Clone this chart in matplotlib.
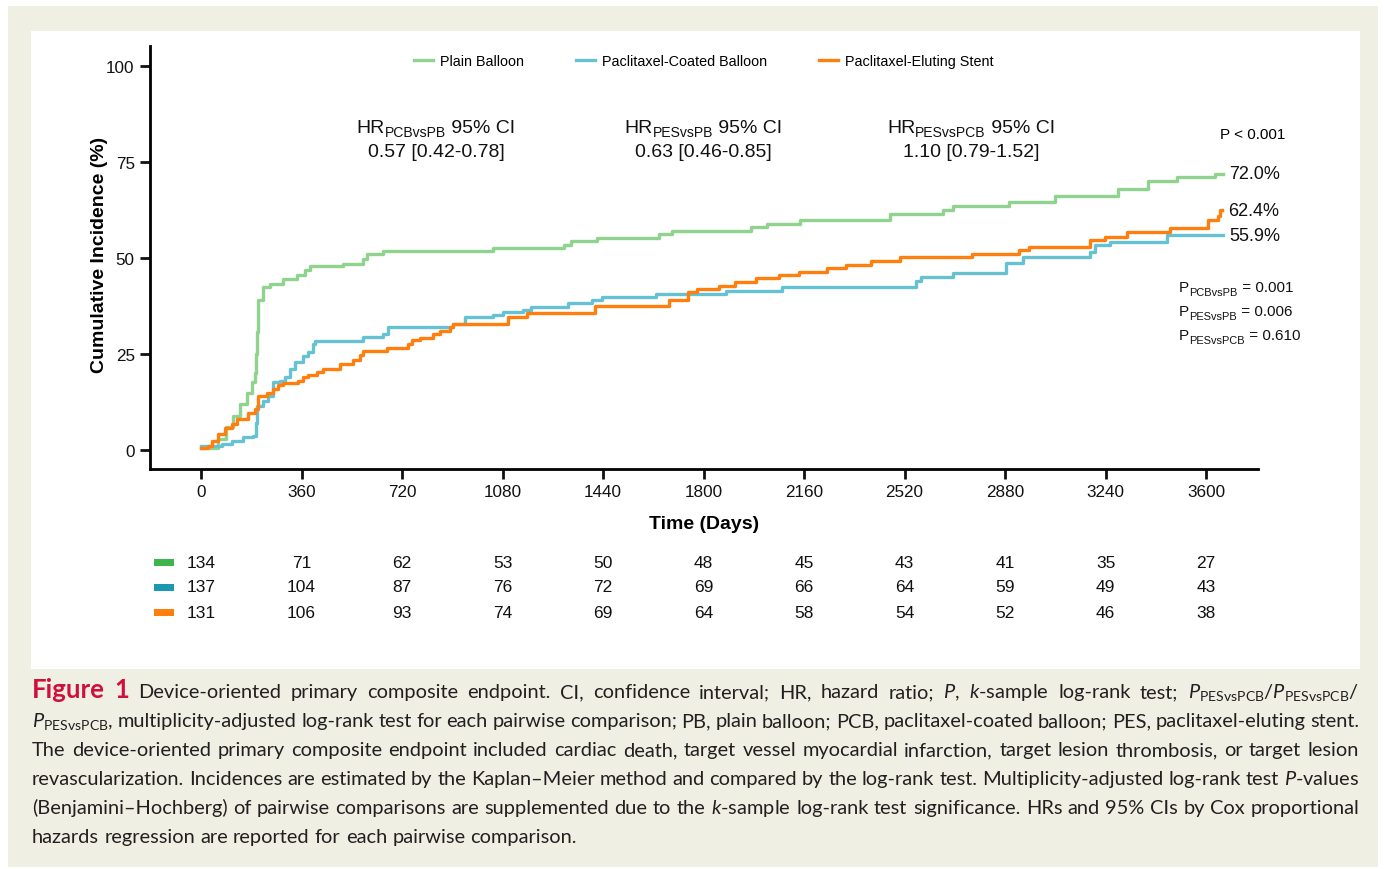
import numpy as np
import matplotlib
matplotlib.use("Agg")
import matplotlib.pyplot as plt
from matplotlib.patches import Rectangle
from matplotlib.transforms import blended_transform_factory

plt.rcParams['font.family'] = ['Liberation Sans', 'DejaVu Sans']
plt.rcParams['mathtext.fontset'] = 'custom'
plt.rcParams['mathtext.rm'] = 'Lato'
plt.rcParams['mathtext.it'] = 'Lato:italic'
plt.rcParams['mathtext.bf'] = 'Lato:bold'

W, H = 1386, 870

# Kaplan-Meier steps (days, cumulative incidence %)
pb_days = [0, 60, 90, 115, 140, 165, 183, 193, 198, 200, 205, 222, 247, 294, 344, 372, 390, 509, 580,
           594, 652, 1046, 1300, 1325, 1418, 1640, 1686, 1970, 2027, 2145, 2468, 2658, 2694, 2894,
           3059, 3284, 3392, 3496, 3632, 3660]
pb_pct = [0.5, 3.0, 6.0, 8.9, 12.0, 15.0, 17.7, 20.0, 25.0, 30.7, 39.0, 42.4, 43.2, 44.5, 45.5, 47.0,
          48.0, 48.4, 49.7, 51.0, 51.8, 52.5, 53.5, 54.4, 55.3, 56.2, 57.1, 58.0, 58.9, 59.8, 61.6,
          62.5, 63.5, 64.5, 66.2, 68.1, 70.1, 71.0, 72.0, 72.0]

pcb_days = [0, 75, 111, 150, 186, 195, 200, 222, 240, 258, 283, 301, 319, 337, 365, 383, 401, 408,
            580, 652, 670, 903, 946, 1046, 1082, 1153, 1182, 1314, 1400, 1436, 1630, 1880, 2081,
            2561, 2579, 2694, 2883, 2944, 3184, 3202, 3256, 3460, 3660]
pcb_pct = [1.0, 1.5, 2.4, 3.3, 3.7, 7.0, 11.5, 12.7, 14.0, 17.7, 18.0, 19.0, 21.0, 23.0, 24.5, 25.5,
           27.6, 28.4, 29.4, 30.2, 32.0, 32.8, 34.6, 35.3, 35.9, 36.5, 37.3, 38.2, 39.0, 39.8, 40.6,
           41.5, 42.4, 44.1, 45.1, 46.2, 48.6, 50.3, 51.5, 53.4, 54.3, 55.9, 55.9]

pes_days = [0, 25, 40, 61, 86, 111, 129, 168, 193, 204, 236, 258, 276, 294, 347, 365, 383, 415, 437,
            498, 544, 569, 580, 666, 741, 755, 784, 831, 856, 892, 903, 1100, 1168, 1411, 1676, 1744,
            1776, 1855, 1913, 1988, 2070, 2142, 2242, 2310, 2400, 2503, 2761, 2930, 2966, 3184,
            3238, 3316, 3470, 3607, 3642, 3650, 3657]
pes_pct = [0.5, 1.0, 2.4, 4.2, 5.7, 6.8, 8.1, 9.6, 10.7, 14.0, 15.0, 15.9, 16.9, 17.4, 18.0, 19.0,
           19.5, 20.3, 21.0, 22.4, 23.4, 24.7, 25.8, 26.6, 27.6, 28.6, 29.1, 30.2, 31.0, 32.0, 32.8,
           34.7, 35.6, 37.4, 39.1, 41.1, 41.9, 42.8, 43.7, 44.7, 45.6, 46.5, 47.4, 48.3, 49.3, 50.2,
           51.0, 52.1, 53.0, 54.8, 55.6, 56.8, 57.7, 60.0, 61.0, 62.4, 62.4]

labels = ["Plain Balloon", "Paclitaxel-Coated Balloon", "Paclitaxel-Eluting Stent"]
line_colors = ["#90D38E", "#66C2D2", "#FF7F0E"]
risk_colors = ["#3DB54A", "#1A97B3", "#FF7F0E"]

risk_times = [0, 360, 720, 1080, 1440, 1800, 2160, 2520, 2880, 3240, 3600]
risk_pb = [134, 71, 62, 53, 50, 48, 45, 43, 41, 35, 27]
risk_pcb = [137, 104, 87, 76, 72, 69, 66, 64, 59, 49, 43]
risk_pes = [131, 106, 93, 74, 69, 64, 58, 54, 52, 46, 38]

# (main, subscript, rest) pieces for the annotations
hr_titles = [("HR", "PCBvsPB", " 95% CI"), ("HR", "PESvsPB", " 95% CI"), ("HR", "PESvsPCB", " 95% CI")]
hr_values = ["0.57 [0.42-0.78]", "0.63 [0.46-0.85]", "1.10 [0.79-1.52]"]
pair_p = [("P", "PCBvsPB", " = 0.001"), ("P", "PESvsPB", " = 0.006"), ("P", "PESvsPCB", " = 0.610")]

caption = [
    r"Figure 1 Device-oriented primary composite endpoint. CI, confidence interval; HR, hazard ratio; $P$, $k$-sample log-rank test; $P_{\mathrm{PESvsPCB}}$/$P_{\mathrm{PESvsPCB}}$/",
    r"$P_{\mathrm{PESvsPCB}}$, multiplicity-adjusted log-rank test for each pairwise comparison; PB, plain balloon; PCB, paclitaxel-coated balloon; PES, paclitaxel-eluting stent.",
    "The device-oriented primary composite endpoint included cardiac death, target vessel myocardial infarction, target lesion thrombosis, or target lesion",
    r"revascularization. Incidences are estimated by the Kaplan–Meier method and compared by the log-rank test. Multiplicity-adjusted log-rank test $P$-values",
    r"(Benjamini–Hochberg) of pairwise comparisons are supplemented due to the $k$-sample log-rank test significance. HRs and 95% CIs by Cox proportional",
    "hazards regression are reported for each pairwise comparison.",
]

fig = plt.figure(figsize=(W / 100, H / 100), dpi=100)
fig.patch.set_facecolor("white")
# beige page and white chart panel
fig.add_artist(Rectangle((8 / W, 1 - 868 / H), 1370 / W, 861 / H, transform=fig.transFigure,
                         facecolor="#EFEFE3", edgecolor="none", zorder=-10))
fig.add_artist(Rectangle((31 / W, 1 - 670 / H), 1329 / W, 638 / H, transform=fig.transFigure,
                         facecolor="white", edgecolor="none", zorder=-9))
renderer = fig.canvas.get_renderer()


def sub_text(x, y, parts, size, ha="left"):
    # draw main text + subscript + rest, positions in pixels from top-left
    main, sub, rest = parts
    specs = [(main, size, 0), (sub, size * 0.72, 4), (rest, size, 0)]
    objs = [fig.text(0, 1 - (y + dy) / H, s, fontsize=fs, va="baseline", color="#111111")
            for s, fs, dy in specs]
    widths = [t.get_window_extent(renderer).width for t in objs]
    total = sum(widths)
    start = {"left": x, "center": x - total / 2, "right": x - total}[ha]
    for t, w in zip(objs, widths):
        t.set_x(start / W)
        start += w


ax = fig.add_axes([150 / W, 1 - 470 / H, 1108 / W, 423 / H])
ax.set_facecolor("none")

series = [(pb_days, pb_pct), (pcb_days, pcb_pct), (pes_days, pes_pct)]
handles = []
for (d, p), lab, col in zip(series, labels, line_colors):
    h, = ax.step(d, p, where="post", color=col, lw=2.4, label=lab)
    handles.append(h)
    ax.annotate(f"{p[-1]:.1f}%", (d[-1], p[-1]), xytext=(6, 0), textcoords="offset pixels",
                va="center", ha="left", fontsize=13, color="#111111")

ax.set_xlim(-183, 3786)
ax.set_ylim(-4.9, 105.2)
ax.set_xticks(risk_times)
ax.set_yticks([0, 25, 50, 75, 100])
for s in ["top", "right"]:
    ax.spines[s].set_visible(False)
for s in ["left", "bottom"]:
    ax.spines[s].set_linewidth(2)
ax.tick_params(length=7, width=2, labelsize=12.3, pad=4, colors="#111111")
ax.set_xlabel("Time (Days)", fontsize=14, fontweight="bold")
ax.xaxis.set_label_coords(0.5, -0.109)
ax.set_ylabel("Cumulative Incidence (%)", fontsize=14, fontweight="bold")
ax.yaxis.set_label_coords(-0.038, 0.508)

ax.legend(handles=handles, loc="center", bbox_to_anchor=(0.5, 0.9645), ncol=3, frameon=False,
          fontsize=10.4, handlelength=1.3, handletextpad=0.5, columnspacing=3.6)

for x, t, v in zip([436, 703, 971], hr_titles, hr_values):
    sub_text(x, 133, t, 14, ha="center")
    fig.text(x / W, 1 - 157 / H, v, ha="center", va="baseline", fontsize=14, color="#111111")

fig.text(1285 / W, 1 - 139 / H, "P < 0.001", ha="right", va="baseline", fontsize=11)
for y, t in zip([292, 316, 340], pair_p):
    sub_text(1179, y, t, 11)

# numbers at risk
trans = blended_transform_factory(ax.transData, fig.transFigure)
for y, row, col in zip([563, 588, 613], [risk_pb, risk_pcb, risk_pes], risk_colors):
    fig.add_artist(Rectangle((154 / W, 1 - (y + 3.5) / H), 20 / W, 7 / H,
                             transform=fig.transFigure, facecolor=col, edgecolor="none"))
    for t, n in zip(risk_times, row):
        ax.text(t, 1 - y / H, str(n), ha="center", va="center", fontsize=12.5,
                transform=trans, clip_on=False, color="#111111")

# caption, justified word by word
cap_size = 14.4
x0, x1 = 32, 1359
for i, line in enumerate(caption):
    y = 698 + 29 * i
    words = line.split(" ")
    objs = []
    for j, w in enumerate(words):
        if i == 0 and j < 2:
            t = fig.text(0, 1 - y / H, w, va="baseline", fontsize=18.5, family="Lato",
                         fontweight="bold", color="#D0103A")
        else:
            t = fig.text(0, 1 - y / H, w, va="baseline", fontsize=cap_size, family="Lato",
                         color="#231F20")
        objs.append(t)
    widths = [t.get_window_extent(renderer).width for t in objs]
    if i < len(caption) - 1:
        gap = (x1 - x0 - sum(widths)) / (len(objs) - 1)
    else:
        gap = 0.26 * cap_size * 100 / 72
    x = x0
    for t, w in zip(objs, widths):
        t.set_x(x / W)
        x += w + gap

fig.savefig("out.png", dpi=100)
